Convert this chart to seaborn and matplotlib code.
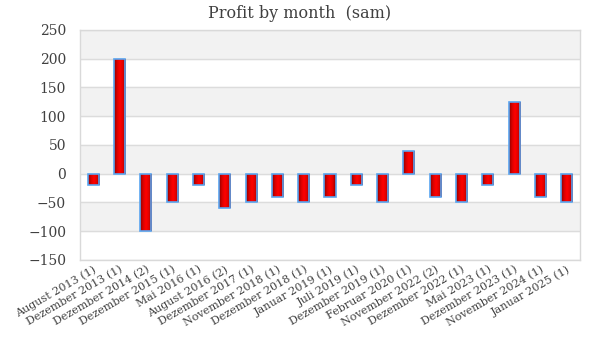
import numpy as np
import pandas as pd
import matplotlib
matplotlib.use("Agg")
import matplotlib.pyplot as plt
from matplotlib.colors import LinearSegmentedColormap
import seaborn as sns

months = ["August 2013 (1)", "Dezember 2013 (1)", "Dezember 2014 (2)",
          "Dezember 2015 (1)", "Mai 2016 (1)", "August 2016 (2)",
          "Dezember 2017 (1)", "November 2018 (1)", "Dezember 2018 (1)",
          "Januar 2019 (1)", "Juli 2019 (1)", "Dezember 2019 (1)",
          "Februar 2020 (1)", "November 2022 (2)", "Dezember 2022 (1)",
          "Mai 2023 (1)", "Dezember 2023 (1)", "November 2024 (1)",
          "Januar 2025 (1)"]
profit = [-20, 200, -100, -50, -20, -60, -50, -40, -50, -40, -20, -50,
          40, -40, -50, -20, 125, -40, -50]
y_ticks = [-150, -100, -50, 0, 50, 100, 150, 200, 250]

df = pd.DataFrame({"month": months, "profit": profit})

sns.set_style("white")
plt.rcParams["font.family"] = ["DejaVu Serif"]

fig = plt.figure(figsize=(6, 3.6), dpi=100)
ax = fig.add_axes([0.1333, 0.2778, 0.8334, 0.6389])

sns.barplot(data=df, x="month", y="profit", color="#e00000", width=0.42,
            edgecolor="#5aa5f0", linewidth=1.2, ax=ax, zorder=2)

# cylinder-like red gradient inside each bar
cmap = LinearSegmentedColormap.from_list(
    "redbar", ["#8a0000", "#d80000", "#ff0000", "#e00000", "#8a0000"])
grad = np.linspace(0, 1, 64).reshape(1, -1)
for p in ax.containers[0]:
    bb = p.get_bbox()
    im = ax.imshow(grad, cmap=cmap, aspect="auto", zorder=2.5,
                   extent=[bb.x0, bb.x1, bb.y0, bb.y1])
    im.set_clip_path(p)
    p.set_facecolor("none")
    p.set_zorder(3)

# alternating background bands and grid lines
for i in range(len(y_ticks) - 1):
    if (len(y_ticks) - 2 - i) % 2 == 0:
        ax.axhspan(y_ticks[i], y_ticks[i + 1], color="#f2f2f2", zorder=0)
for t in y_ticks:
    ax.axhline(t, color="#dcdcdc", lw=1, zorder=0.5)

ax.set_xlim(-0.5, len(months) - 0.5)
ax.set_ylim(-150, 250)
ax.set_yticks(y_ticks)
ax.set_xlabel("")
ax.set_ylabel("")
for s in ax.spines.values():
    s.set_color("#d9d9d9")
    s.set_linewidth(1)
ax.tick_params(axis="both", length=0, colors="#404040")
ax.tick_params(axis="y", labelsize=10, pad=10)
ax.tick_params(axis="x", labelsize=8, pad=3)
plt.setp(ax.get_xticklabels(), rotation=30, ha="right",
         rotation_mode="anchor")

fig.suptitle("Profit by month  (sam)", y=0.985, fontsize=11.5,
             color="#404040")

fig.savefig("out.png", dpi=100)
